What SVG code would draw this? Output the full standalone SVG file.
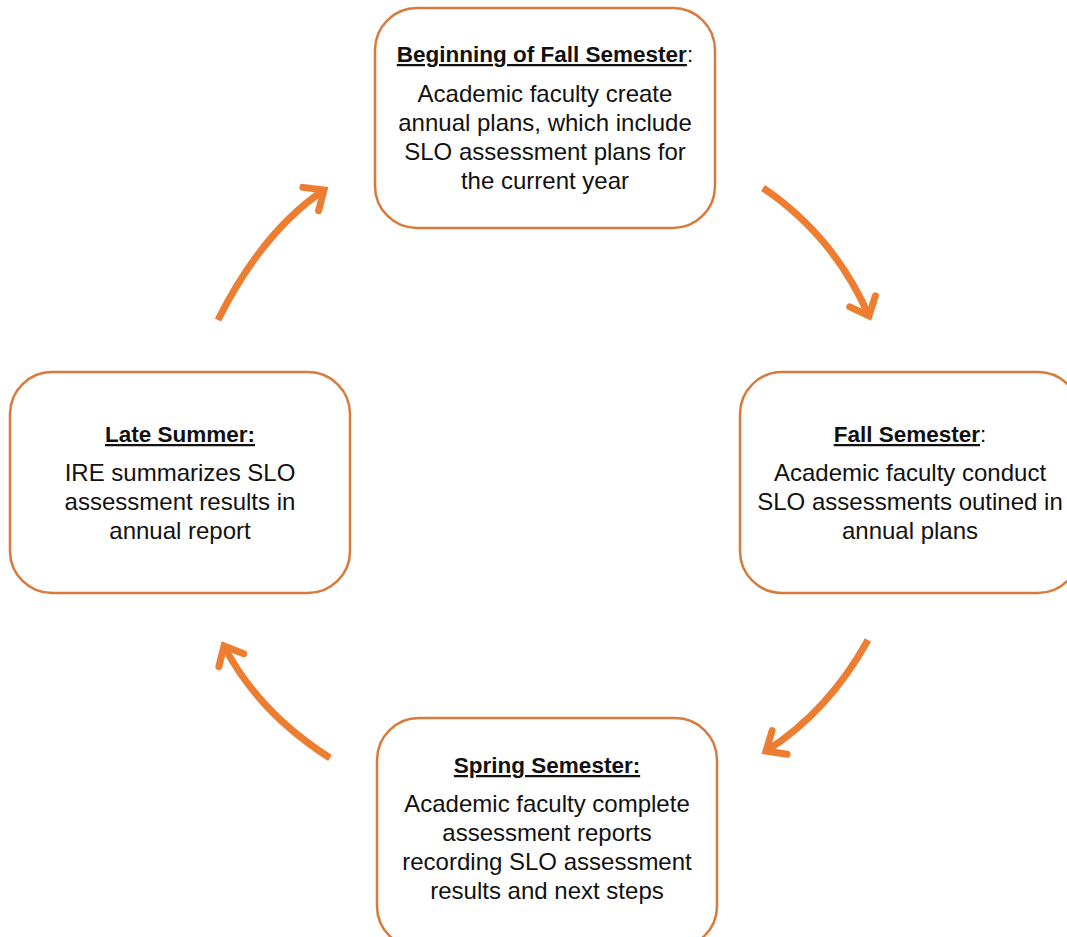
<svg xmlns="http://www.w3.org/2000/svg" width="1067" height="937" viewBox="0 0 1067 937">
<style>
.box{fill:#fff;stroke:#D9793A;stroke-width:2.5}
.t{font-family:"Liberation Sans",Arial,sans-serif;font-size:24px;fill:#111;text-anchor:middle}
.h{font-weight:bold;font-size:22.5px}
.u{text-decoration:underline}
.arr{fill:none;stroke:#ED7D31;stroke-width:7}
</style>
<defs>
<marker id="ah" markerUnits="userSpaceOnUse" markerWidth="40" markerHeight="40" refX="19" refY="18" orient="auto" overflow="visible">
<path d="M3,4 L19,18 L3,32" fill="none" stroke="#ED7D31" stroke-width="7" stroke-linecap="round" stroke-linejoin="miter"/>
</marker>
</defs>
<rect width="1067" height="937" fill="#fff"/>
<g id="connectors">
<path class="arr" d="M218,320 Q262,232 324,190" marker-end="url(#ah)"/>
<path class="arr" d="M763,188 Q834,236 869,316" marker-end="url(#ah)"/>
<path class="arr" d="M868,640 Q828,712 766,751" marker-end="url(#ah)"/>
<path class="arr" d="M330,758 Q258,712 224,646" marker-end="url(#ah)"/>
</g>
<g id="node-beginning-fall">
<rect class="box" x="375" y="8" width="340" height="220" rx="42"/>
<text class="t h" x="545" y="62"><tspan class="u">Beginning of Fall Semester</tspan><tspan font-weight="normal">:</tspan></text>
<text class="t" x="545" y="102">Academic faculty create</text>
<text class="t" x="545" y="131">annual plans, which include</text>
<text class="t" x="545" y="160">SLO assessment plans for</text>
<text class="t" x="545" y="189">the current year</text>
</g>
<g id="node-fall">
<rect class="box" x="740" y="372" width="340" height="221" rx="42"/>
<text class="t h" x="910" y="442"><tspan class="u">Fall Semester</tspan><tspan font-weight="normal">:</tspan></text>
<text class="t" x="910" y="481">Academic faculty conduct</text>
<text class="t" x="910" y="510">SLO assessments outined in</text>
<text class="t" x="910" y="539">annual plans</text>
</g>
<g id="node-spring">
<rect class="box" x="377" y="718" width="340" height="230" rx="42"/>
<text class="t h" x="547" y="773"><tspan class="u">Spring Semester:</tspan></text>
<text class="t" x="547" y="812">Academic faculty complete</text>
<text class="t" x="547" y="841">assessment reports</text>
<text class="t" x="547" y="870">recording SLO assessment</text>
<text class="t" x="547" y="899">results and next steps</text>
</g>
<g id="node-late-summer">
<rect class="box" x="10" y="372" width="340" height="221" rx="42"/>
<text class="t h" x="180" y="442"><tspan class="u">Late Summer:</tspan></text>
<text class="t" x="180" y="481">IRE summarizes SLO</text>
<text class="t" x="180" y="510">assessment results in</text>
<text class="t" x="180" y="539">annual report</text>
</g>
</svg>
